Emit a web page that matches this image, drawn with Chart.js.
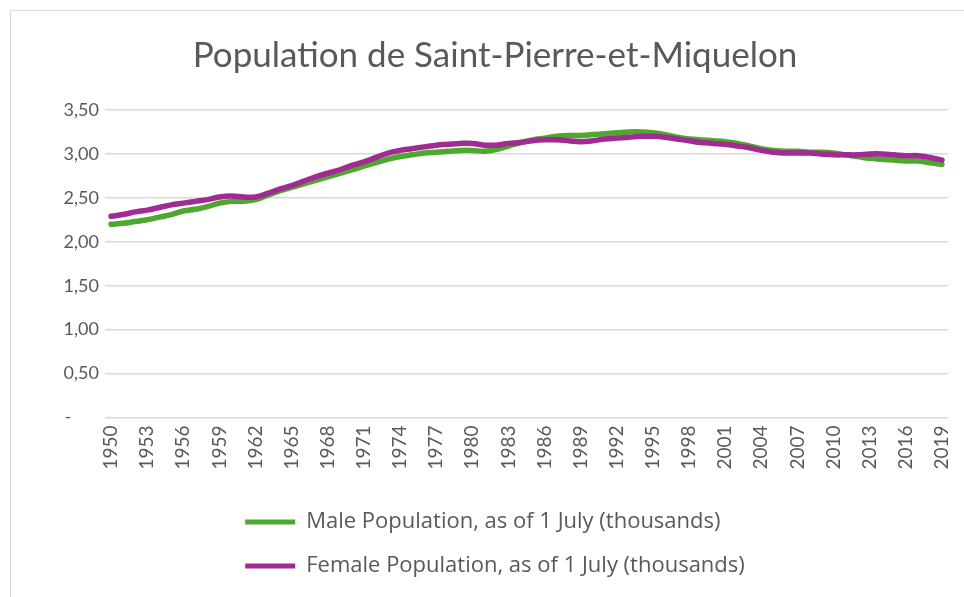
<!DOCTYPE html>
<html>
<head>
<meta charset="utf-8">
<script src="https://cdn.jsdelivr.net/npm/chart.js@4/dist/chart.umd.min.js"></script>
<style>
  html, body { margin: 0; padding: 0; background: #ffffff; overflow: hidden; width: 964px; height: 597px; }
  #frame { position: absolute; left: 10px; top: 10px; width: 2000px; height: 2000px; border: 1px solid #d9d9d9; box-sizing: border-box; }
  #c { position: absolute; left: 0; top: 0; }
</style>
</head>
<body>
<div id="frame"></div>
<canvas id="c" width="990" height="597"></canvas>
<script>
const chartTitle = "Population de Saint-Pierre-et-Miquelon";
const seriesNames = ["Male Population, as of 1 July (thousands)", "Female Population, as of 1 July (thousands)"];
const years = [];
for (let y = 1950; y <= 2019; y++) years.push(String(y));

const malePop = [
  2.20, 2.21, 2.23, 2.25, 2.28, 2.31, 2.35, 2.37, 2.40, 2.44,
  2.46, 2.46, 2.48, 2.53, 2.58, 2.62, 2.66, 2.70, 2.74, 2.78,
  2.82, 2.86, 2.90, 2.94, 2.97, 2.99, 3.01, 3.02, 3.03, 3.04,
  3.04, 3.03, 3.05, 3.09, 3.13, 3.16, 3.18, 3.20, 3.21, 3.21,
  3.22, 3.23, 3.24, 3.25, 3.25, 3.24, 3.22, 3.19, 3.17, 3.16,
  3.15, 3.14, 3.12, 3.09, 3.06, 3.04, 3.03, 3.03, 3.02, 3.02,
  3.01, 2.99, 2.97, 2.95, 2.94, 2.93, 2.92, 2.92, 2.90, 2.88
];
const femalePop = [
  2.29, 2.31, 2.34, 2.36, 2.39, 2.42, 2.44, 2.46, 2.48, 2.51,
  2.52, 2.51, 2.51, 2.55, 2.60, 2.64, 2.69, 2.74, 2.78, 2.82,
  2.87, 2.91, 2.96, 3.01, 3.04, 3.06, 3.08, 3.10, 3.11, 3.12,
  3.12, 3.10, 3.10, 3.12, 3.13, 3.15, 3.16, 3.16, 3.15, 3.14,
  3.15, 3.17, 3.18, 3.19, 3.20, 3.20, 3.19, 3.17, 3.15, 3.13,
  3.12, 3.11, 3.09, 3.07, 3.04, 3.02, 3.01, 3.01, 3.01, 3.00,
  2.99, 2.99, 2.99, 3.00, 3.00, 2.99, 2.98, 2.98, 2.96, 2.93
];
const yTickValues = [0, 0.5, 1, 1.5, 2, 2.5, 3, 3.5];

const textColor = "#595959";
const tickFont = "Lato, 'Open Sans', sans-serif";
const legendFont = "'Open Sans', Lato, sans-serif";

// keep legend rows left-aligned with each other (centered as a block)
const legendBlockAlign = {
  id: "legendBlockAlign",
  beforeDraw(chart) {
    const lg = chart.legend;
    if (lg && lg.lineWidths && lg.lineWidths.length > 1) {
      const m = Math.max(...lg.lineWidths);
      lg.lineWidths = lg.lineWidths.map(() => m);
    }
  }
};

new Chart(document.getElementById("c"), {
  type: "line",
  data: {
    labels: years,
    datasets: [
      { label: seriesNames[0], data: malePop, borderColor: "#4EA72E", backgroundColor: "#4EA72E",
        borderWidth: 5.5, pointRadius: 0, tension: 0.4, order: 1, borderCapStyle: "round" },
      { label: seriesNames[1], data: femalePop, borderColor: "#A02B93", backgroundColor: "#A02B93",
        borderWidth: 5.5, pointRadius: 0, tension: 0.4, order: 0, borderCapStyle: "round" }
    ]
  },
  plugins: [legendBlockAlign],
  options: {
    responsive: false,
    animation: false,
    devicePixelRatio: 1,
    layout: { padding: { left: 0, right: 0, top: 0, bottom: 10 } },
    plugins: {
      title: {
        display: true, text: chartTitle, color: textColor,
        font: { family: tickFont, size: 35, weight: "normal" },
        padding: { top: 35, bottom: 33 }
      },
      legend: {
        display: true, position: "bottom",
        labels: {
          color: textColor,
          font: { family: legendFont, size: 22 },
          boxWidth: 50, boxHeight: 5, padding: 22,
          sort: (a, b) => a.datasetIndex - b.datasetIndex,
          generateLabels: (chart) => {
            const items = Chart.defaults.plugins.legend.labels.generateLabels(chart);
            return items.map(it => Object.assign(it, { lineWidth: 0, fillStyle: it.strokeStyle }));
          }
        }
      },
      tooltip: { enabled: false }
    },
    scales: {
      x: {
        offset: true,
        grid: { display: false, drawTicks: false },
        border: { display: false },
        ticks: {
          autoSkip: false, minRotation: 90, maxRotation: 90, padding: 8,
          color: textColor, font: { family: tickFont, size: 19 },
          callback: function (val, idx) { return idx % 3 === 0 ? years[idx] : ""; }
        },
        afterFit: (s) => { s.height = 71.5; }
      },
      y: {
        min: 0, max: 3.5,
        afterBuildTicks: (s) => { s.ticks = yTickValues.map(v => ({ value: v })); },
        grid: { color: "#d9d9d9", lineWidth: 1.5, drawTicks: false },
        border: { display: false },
        ticks: {
          padding: 6, color: textColor, font: { family: tickFont, size: 18 },
          callback: (v) => v === 0 ? "-      " : v.toFixed(2).replace(".", ",")
        },
        afterFit: (s) => { s.width = 105; }
      },
      yRightSpace: {
        position: "right", display: true, min: 0, max: 3.5,
        grid: { display: false, drawTicks: false },
        border: { display: false },
        ticks: { display: false },
        afterFit: (s) => { s.width = 42; }
      }
    }
  }
});
</script>
</body>
</html>
